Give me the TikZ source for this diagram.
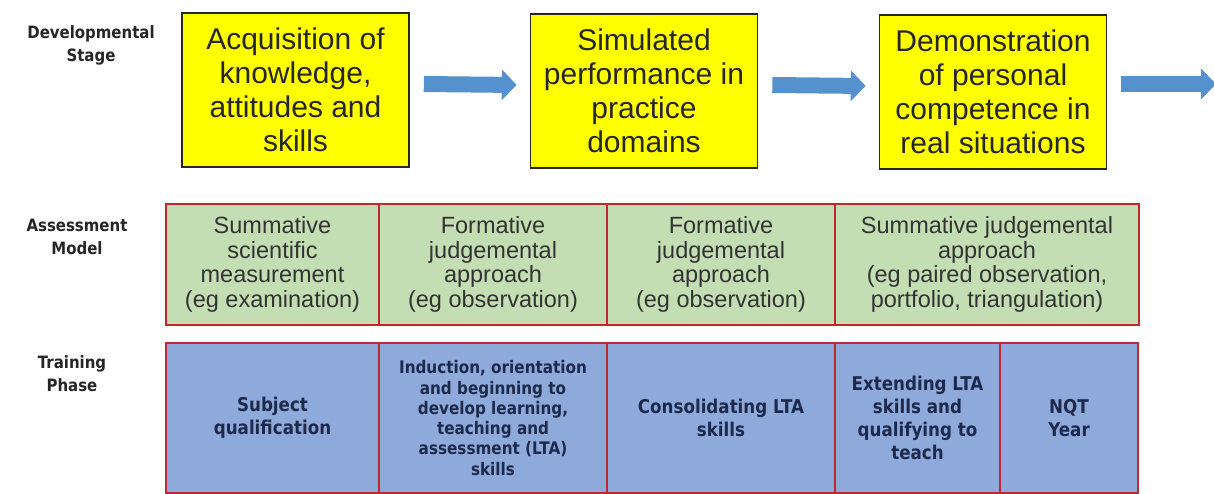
\documentclass[tikz,border=0pt]{standalone}
\usepackage{fontspec}
\setmainfont{Liberation Sans}
\newfontfamily\labelfont[FakeStretch=0.88]{DejaVu Sans}
\usetikzlibrary{arrows.meta}

\definecolor{stageyellow}{RGB}{255,255,0}
\definecolor{modelgreen}{RGB}{196,222,180}
\definecolor{phaseblue}{RGB}{142,170,219}
\definecolor{cellred}{RGB}{190,40,50}
\definecolor{arrowblue}{RGB}{85,145,205}
\definecolor{navytext}{RGB}{30,42,75}

\tikzstyle{rowlabel} = [align=center,text=black!85,font=\labelfont\bfseries\fontsize{17}{23}\selectfont]
\tikzstyle{stagebox} = [draw=black!85,line width=1.6pt,fill=stageyellow,inner sep=0pt,align=center,text=black!85,font=\fontsize{30}{34}\selectfont]
\tikzstyle{modelcell} = [draw=cellred,line width=1.5pt,fill=modelgreen,inner sep=0pt,align=center,text=black!80,font=\fontsize{23.5}{24.5}\selectfont]
\tikzstyle{phasecell} = [draw=cellred,line width=1.5pt,fill=phaseblue,inner sep=0pt,align=center,text=navytext,font=\labelfont\bfseries\fontsize{19}{23}\selectfont]
\tikzstyle{smallphase} = [font=\labelfont\bfseries\fontsize{17.3}{20.3}\selectfont]
\tikzstyle{bigarrow} = [draw=arrowblue,line width=16pt,-{Triangle[width=30pt,length=15pt]}]

\begin{document}
\begin{tikzpicture}[x=1pt,y=-1pt]
      \useasboundingbox (0,0) rectangle (1214,494);
      %% row labels
      \foreach \name/\x/\y/\lines in {devlabel/91/45/{Developmental\\Stage},
        asslabel/77/237/{Assessment\\Model}, trainlabel/72/374/{Training\\Phase}}
      {
        \node (\name) at (\x,\y) [rowlabel] {\lines};
      }
      %% developmental stages
      \foreach \name/\x/\y/\lines in {
        stage1/295.5/90/{Acquisition of\\knowledge,\\attitudes and\\skills},
        stage2/644/91/{Simulated\\performance in\\practice\\domains},
        stage3/993/92/{Demonstration\\of personal\\competence in\\real situations}}
      {
        \node (\name) at (\x,\y) [stagebox,minimum width=227pt,minimum height=154pt] {\lines};
      }
      %% arrows between stages
      \coordinate (exit) at (1216,84);
      \foreach \from/\to in {stage1/stage2, stage2/stage3}
      {
        \draw[bigarrow] ([xshift=14pt,yshift=6pt]\from.east) -- ([xshift=-13pt,yshift=6pt]\to.west);
      }
      \draw[bigarrow] ([xshift=14pt,yshift=8pt]stage3.east) -- (exit);
      %% assessment model
      \foreach \name/\x/\w/\lines in {
        model1/272.5/213/{Summative\\scientific\\measurement\\(eg examination)},
        model2/493/228/{Formative\\judgemental\\approach\\(eg observation)},
        model3/721/228/{Formative\\judgemental\\approach\\(eg observation)},
        model4/987/304/{Summative judgemental\\approach\\(eg paired observation,\\portfolio, triangulation)}}
      {
        \node (\name) at (\x,264.5) [modelcell,minimum width=\w pt,minimum height=121pt] {\lines};
      }
      %% training phases
      \foreach \name/\x/\w/\extra/\lines in {
        phase1/272.5/213//{Subject\\qualification},
        phase2/493/228/smallphase/{Induction, orientation\\and beginning to\\develop learning,\\teaching and\\assessment (LTA)\\skills},
        phase3/721/228//{Consolidating LTA\\skills},
        phase4/917.5/165//{Extending LTA\\skills and\\qualifying to\\teach},
        phase5/1069/138//{NQT\\Year}}
      {
        \node (\name) at (\x,418) [phasecell,\extra,minimum width=\w pt,minimum height=150pt] {\lines};
      }
\end{tikzpicture}
\end{document}
